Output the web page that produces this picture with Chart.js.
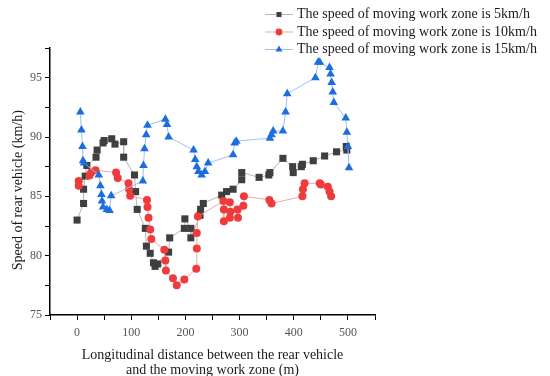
<!DOCTYPE html>
<html>
<head>
<meta charset="utf-8">
<script src="https://cdn.jsdelivr.net/npm/chart.js@4.4.0/dist/chart.umd.min.js"></script>
<style>
  html, body { margin: 0; padding: 0; background: #fff; }
</style>
</head>
<body>
<canvas id="myChart" width="550" height="376"></canvas>
<script>
'use strict';

// series labels
let seriesNames = [
  'The speed of moving work zone is 5km/h',
  'The speed of moving work zone is 10km/h',
  'The speed of moving work zone is 15km/h'
];

// 5 km/h (squares)
let speed5X = [0, 12, 12, 15, 18, 35, 37, 48, 50, 64, 70, 86, 86, 106, 108, 111, 126, 128, 135, 141, 144, 149,
  169, 171, 198, 199, 210, 210, 227, 228, 233, 267, 276, 288, 304, 304, 336, 354, 356, 380, 398, 399, 414, 416,
  436, 457, 479, 498, 497];
let speed5Y = [83.0, 84.4, 85.6, 86.7, 87.6, 88.3, 88.9, 89.5, 89.7, 89.85, 89.4, 89.6, 88.3, 86.8, 85.4, 83.9,
  82.3, 80.8, 80.2, 79.4, 79.1, 79.3, 80.3, 81.5, 82.3, 83.1, 82.3, 81.5, 83.4, 83.9, 84.4, 85.1, 85.4, 85.6,
  86.4, 87.0, 86.6, 86.8, 87.0, 88.2, 87.5, 87.0, 87.5, 87.7, 88.0, 88.4, 88.75, 88.9, 89.2];

// 10 km/h (circles)
let speed10X = [3, 3, 23, 26, 34, 72, 75, 95, 96, 98, 129, 130, 132, 135, 137, 161, 163, 164, 177, 184, 198,
  220, 221, 221, 223, 270, 271, 271, 282, 283, 282, 296, 297, 307, 308, 355, 359, 416, 417, 420, 448, 450,
  463, 466, 469];
let speed10Y = [86.3, 85.9, 86.75, 87.0, 87.2, 87.0, 86.55, 86.1, 85.6, 85.05, 84.7, 84.1, 83.2, 82.2, 81.4,
  80.5, 79.6, 78.75, 78.1, 77.5, 78.0, 78.9, 80.6, 81.9, 83.3, 84.6, 83.9, 82.9, 83.2, 83.7, 84.5, 83.9, 83.2,
  84.2, 85.0, 84.7, 84.4, 85.0, 85.6, 86.1, 86.1, 86.0, 85.8, 85.4, 85.0];

// 15 km/h (triangles)
let speed15X = [6, 8, 10, 11, 13, 40, 43, 45, 46, 48, 55, 60, 63, 121.5, 122.6, 124.5, 127.6, 130, 163, 166,
  169, 215, 218, 221, 224, 230, 236, 242, 288, 291, 294, 356, 359, 362, 380, 385, 388, 440, 445, 448, 466,
  468, 470, 472, 474, 496, 498, 500, 502];
let speed15Y = [92.1, 90.6, 89.2, 88.0, 87.8, 86.8, 85.9, 85.15, 84.6, 84.1, 83.9, 83.8, 85.05, 86.3, 87.6,
  89.0, 90.2, 91.0, 91.5, 91.05, 90.0, 88.9, 88.1, 87.5, 87.1, 86.8, 87.1, 87.8, 88.5, 89.5, 89.65, 89.9, 90.2,
  90.5, 90.5, 92.1, 93.65, 95.0, 96.3, 96.3, 95.85, 95.3, 94.6, 93.8, 92.9, 91.6, 90.4, 89.2, 87.4];

// axis ranges / ticks
let xMin = -50;
let xMax = 550;
let xStep = 50;
let yMin = 75;
let yMax = 97.5;
let yStep = 2.5;

function toPoints(xs, ys) {
  let pts = [];
  for (let i = 0; i < xs.length; i++) {
    pts.push({ x: xs[i], y: ys[i] });
  }
  return pts;
}

const serif = '"Liberation Serif", "Times New Roman", serif';

// legend drawn at the top right, line + marker + text
const sideLegend = {
  id: 'sideLegend',
  afterDraw(chart) {
    const ctx = chart.ctx;
    ctx.save();
    chart.data.datasets.forEach((ds, i) => {
      const y = 14.5 + i * 17.5;
      ctx.strokeStyle = ds.borderColor;
      ctx.lineWidth = 1;
      ctx.beginPath();
      ctx.moveTo(265, y);
      ctx.lineTo(293, y);
      ctx.stroke();
      ctx.fillStyle = ds.pointBackgroundColor;
      Chart.helpers.drawPoint(ctx, { pointStyle: ds.pointStyle, radius: ds.legendRadius, rotation: 0, borderWidth: 0 }, 279, y);
      ctx.fillStyle = '#1a1a1a';
      ctx.font = '14px ' + serif;
      ctx.textBaseline = 'middle';
      ctx.textAlign = 'left';
      ctx.fillText(ds.label, 297, y);
    });
    ctx.restore();
  }
};

const chartConfig = {
  type: 'scatter',
  data: {
    datasets: [{
      label: seriesNames[0],
      data: toPoints(speed5X, speed5Y),
      showLine: true,
      borderColor: '#b4b4b4',
      borderWidth: 1,
      pointStyle: 'rect',
      pointRadius: 5,
      pointHoverRadius: 5,
      pointBackgroundColor: '#3f3f3f',
      pointBorderColor: '#3f3f3f',
      pointBorderWidth: 0,
      legendRadius: 3.6,
      order: 3
    },
    {
      label: seriesNames[1],
      data: toPoints(speed10X, speed10Y),
      showLine: true,
      borderColor: '#f3a3a3',
      borderWidth: 1,
      pointStyle: 'circle',
      pointRadius: 4,
      pointHoverRadius: 4,
      pointBackgroundColor: '#ef3b3b',
      pointBorderColor: '#ef3b3b',
      pointBorderWidth: 0,
      legendRadius: 3.4,
      order: 2
    },
    {
      label: seriesNames[2],
      data: toPoints(speed15X, speed15Y),
      showLine: true,
      borderColor: '#a2bfe8',
      borderWidth: 1,
      pointStyle: 'triangle',
      pointRadius: 5,
      pointHoverRadius: 5,
      pointBackgroundColor: '#1c6ee0',
      pointBorderColor: '#1c6ee0',
      pointBorderWidth: 0,
      legendRadius: 4,
      order: 1
    }]
  },
  options: {
    responsive: false,
    animation: false,
    layout: {
      padding: { top: 48, right: 175, left: 0, bottom: 0 }
    },
    plugins: {
      legend: { display: false },
      tooltip: { enabled: false }
    },
    scales: {
      x: {
        type: 'linear',
        min: xMin,
        max: xMax,
        afterFit(scale) { scale.height = 61; },
        border: { display: true, color: '#000', width: 1.5 },
        grid: { drawOnChartArea: false, drawTicks: true, tickLength: 5, tickColor: '#000', tickWidth: 1 },
        ticks: {
          stepSize: xStep,
          autoSkip: false,
          maxRotation: 0,
          padding: 6,
          color: '#555',
          font: { family: serif, size: 12 },
          callback: (v) => (v % 100 === 0 && v >= 0 && v <= 500) ? v : ''
        },
        title: {
          display: true,
          text: ['Longitudinal distance between the rear vehicle', 'and the moving work zone (m)'],
          color: '#1a1a1a',
          font: { family: serif, size: 14, lineHeight: '15px' },
          padding: { top: 0, bottom: -2 }
        }
      },
      y: {
        min: yMin,
        max: yMax,
        afterFit(scale) { scale.width = 50; },
        border: { display: true, color: '#000', width: 1.5 },
        grid: { drawOnChartArea: false, drawTicks: true, tickLength: 5, tickColor: '#000', tickWidth: 1 },
        ticks: {
          stepSize: yStep,
          autoSkip: false,
          padding: 3,
          color: '#555',
          font: { family: serif, size: 12 },
          callback: (v) => (v % 5 === 0 && v <= 95) ? v : ''
        },
        title: {
          display: true,
          text: 'Speed of rear vehicle (km/h)     ',
          color: '#1a1a1a',
          font: { family: serif, size: 14 },
          padding: { top: 10, bottom: 0 }
        }
      }
    }
  },
  plugins: [sideLegend]
};

let canvasChart = document.getElementById('myChart').getContext('2d');
const myChart = new Chart(canvasChart, chartConfig);
</script>
</body>
</html>
